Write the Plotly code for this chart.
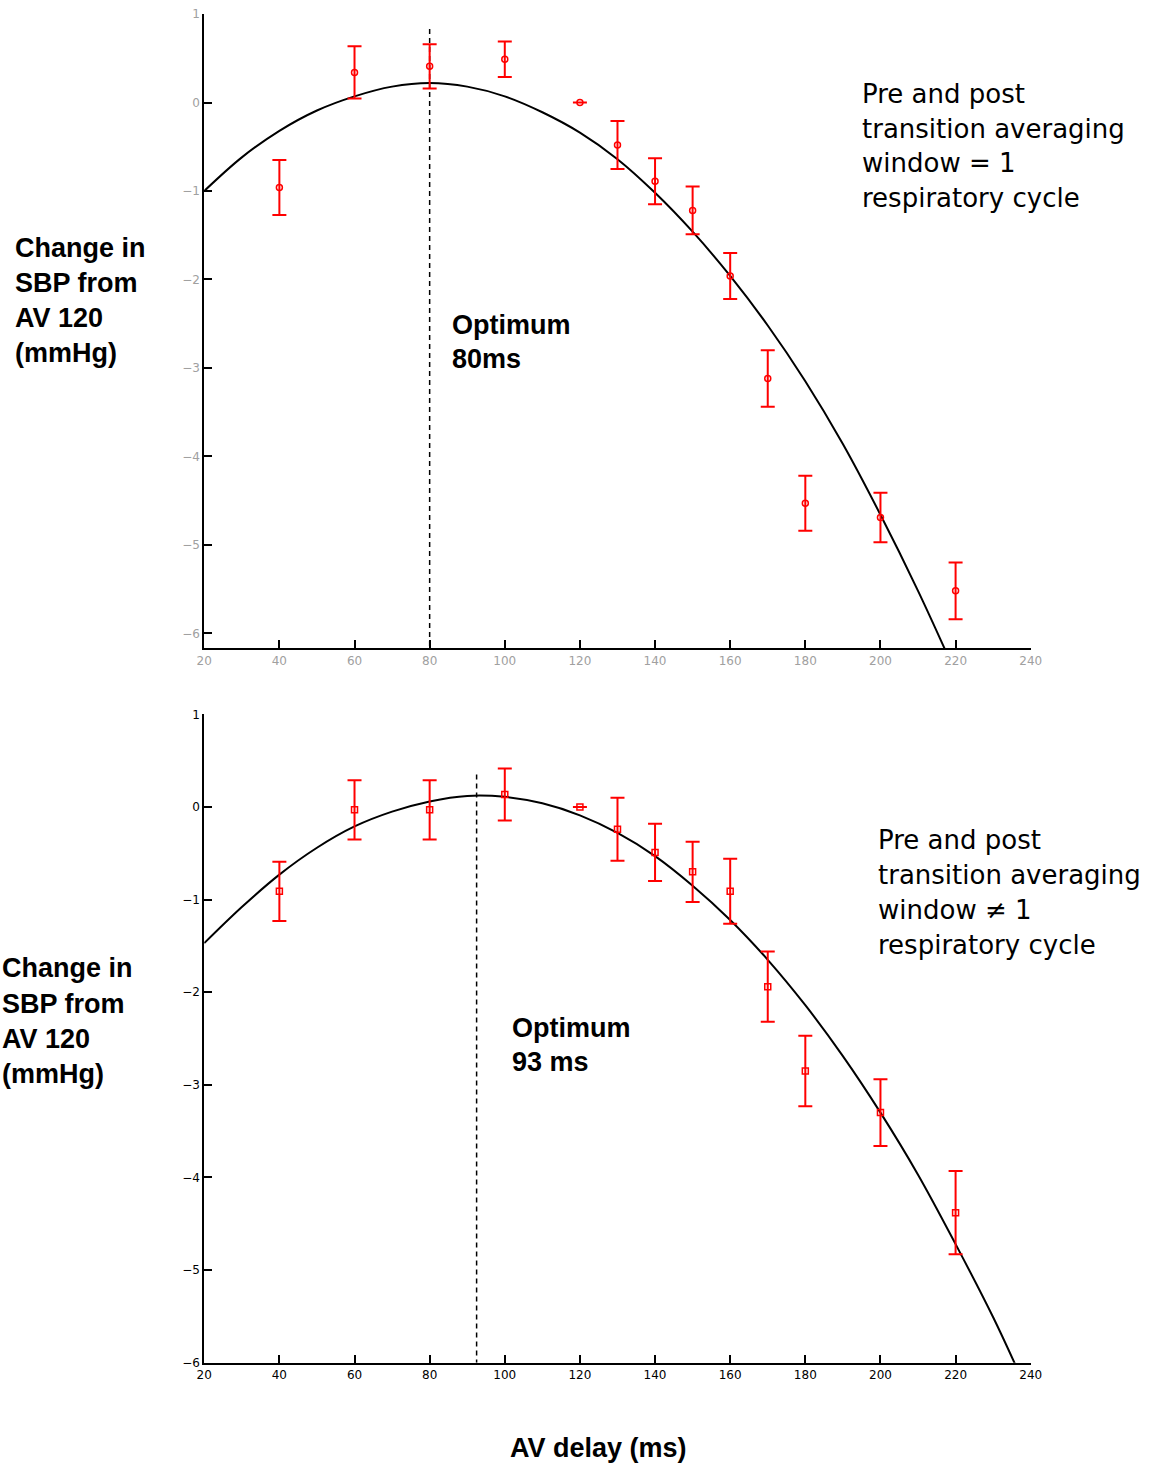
import plotly.graph_objects as go

# Page geometry: the page body has an 8px margin and the snapshot comes out slightly scaled,
# so reference pixel positions are mapped through that measured transform.
OFF = 8
SX, SY = 0.983, 0.990
W = int(round(1152 / SX - 2 * OFF))
H = int(round(1464 / SY - 2 * OFF))

# ---------------- data ----------------
av_top = [40, 60, 80, 100, 120, 130, 140, 150, 160, 170, 180, 200, 220]
sbp_top = [-0.96, 0.34, 0.41, 0.49, 0.0, -0.48, -0.89, -1.22, -1.96, -3.12, -4.53, -4.69, -5.52]
err_top = [0.31, 0.295, 0.25, 0.20, 0.0, 0.27, 0.26, 0.27, 0.26, 0.32, 0.31, 0.28, 0.32]

fit_x_top = [20, 30, 40, 50, 60, 70, 80, 90, 100, 110, 120, 130, 140, 150, 160, 170, 180, 190, 200, 210, 218]
fit_y_top = [-1.00, -0.62, -0.32, -0.09, 0.07, 0.18, 0.22, 0.18, 0.07, -0.11, -0.34, -0.64, -1.02,
             -1.46, -1.96, -2.52, -3.15, -3.86, -4.66, -5.52, -6.26]
opt_top = 80

av_bot = [40, 60, 80, 100, 120, 130, 140, 150, 160, 170, 180, 200, 220]
sbp_bot = [-0.91, -0.03, -0.03, 0.135, 0.0, -0.24, -0.49, -0.70, -0.91, -1.94, -2.85, -3.30, -4.38]
err_bot = [0.32, 0.32, 0.32, 0.28, 0.0, 0.34, 0.31, 0.325, 0.35, 0.38, 0.38, 0.36, 0.45]

fit_x_bot = [20, 30, 40, 50, 60, 70, 80, 90, 100, 110, 120, 130, 140, 150, 160, 170, 180, 190,
             200, 210, 220, 230, 237]
fit_y_bot = [-1.47, -1.08, -0.73, -0.44, -0.21, -0.05, 0.06, 0.12, 0.11, 0.04, -0.09, -0.28, -0.53,
             -0.85, -1.22, -1.65, -2.14, -2.69, -3.30, -3.97, -4.72, -5.51, -6.12]
opt_bot = 92.5

x_ticks = [20, 40, 60, 80, 100, 120, 140, 160, 180, 200, 220, 240]
y_ticks = [-6, -5, -4, -3, -2, -1, 0, 1]

ylabel_lines = ["Change in", "SBP from", "AV 120", "(mmHg)"]
note_top = ["Pre and post", "transition averaging", "window = 1", "respiratory cycle"]
note_bot = ["Pre and post", "transition averaging", "window \u2260 1", "respiratory cycle"]
opt_top_lines = ["Optimum", "80ms"]
opt_bot_lines = ["Optimum", "93 ms"]
xlabel = "AV delay (ms)"

RED = "#ff0000"

def px(v):  # target pixel x -> paper
    return (v / SX - OFF) / W

def py(v):  # target pixel y -> paper
    return 1 - (v / SY - OFF) / H

fig = go.Figure()

# top panel
fig.add_trace(go.Scatter(x=fit_x_top, y=fit_y_top, mode="lines", line=dict(color="black", width=2, shape="spline"),
                         xaxis="x", yaxis="y", showlegend=False, hoverinfo="skip"))
fig.add_trace(go.Scatter(x=[opt_top, opt_top], y=[0.83, -6.17], mode="lines",
                         line=dict(color="black", width=1.5, dash="5px,4px"),
                         xaxis="x", yaxis="y", showlegend=False))
fig.add_trace(go.Scatter(x=av_top, y=sbp_top, mode="markers",
                         marker=dict(symbol="circle-open", size=6, color=RED, line=dict(width=1.5, color=RED)),
                         error_y=dict(type="data", array=err_top, visible=True, color=RED, thickness=2, width=7),
                         xaxis="x", yaxis="y", showlegend=False))

# bottom panel
fig.add_trace(go.Scatter(x=fit_x_bot, y=fit_y_bot, mode="lines", line=dict(color="black", width=2, shape="spline"),
                         xaxis="x2", yaxis="y2", showlegend=False, hoverinfo="skip"))
fig.add_trace(go.Scatter(x=[opt_bot, opt_bot], y=[0.35, -6.0], mode="lines",
                         line=dict(color="black", width=1.5, dash="5px,4px"),
                         xaxis="x2", yaxis="y2", showlegend=False))
fig.add_trace(go.Scatter(x=av_bot, y=sbp_bot, mode="markers",
                         marker=dict(symbol="square-open", size=6, color=RED, line=dict(width=1.5, color=RED)),
                         error_y=dict(type="data", array=err_bot, visible=True, color=RED, thickness=2, width=7),
                         xaxis="x2", yaxis="y2", showlegend=False))

xdom = [px(204), px(1030)]
common = dict(showgrid=False, zeroline=False, showline=True, linecolor="black", linewidth=2,
              ticks="inside", ticklen=8, tickwidth=2, tickcolor="black")

fig.update_layout(
    width=W, height=H, margin=dict(l=0, r=0, t=0, b=0),
    paper_bgcolor="white", plot_bgcolor="white",
    xaxis=dict(domain=xdom, range=[20, 240], tickvals=x_ticks, anchor="y",
               tickfont=dict(family="DejaVu Sans", size=12, color="#a0a0a0"), **common),
    yaxis=dict(domain=[py(649), py(15)], range=[-6.17, 1], tickvals=y_ticks, anchor="x",
               tickfont=dict(family="DejaVu Sans", size=12, color="#a0a0a0"), **common),
    xaxis2=dict(domain=xdom, range=[20, 240], tickvals=x_ticks, anchor="y2",
                tickfont=dict(family="DejaVu Sans", size=12, color="black"), **common),
    yaxis2=dict(domain=[py(1363), py(715)], range=[-6, 1], tickvals=y_ticks, anchor="x2",
                tickfont=dict(family="DejaVu Sans", size=12, color="black"), **common),
)

annotations = []

def add_lines(lines, x0, ys, bold, size, family, xanchor="left"):
    for t, yy in zip(lines, ys):
        annotations.append(dict(
            text=f"<b>{t}</b>" if bold else t, x=px(x0), y=py(yy), xref="paper", yref="paper",
            xanchor=xanchor, yanchor="middle", showarrow=False,
            font=dict(family=family, size=size, color="black")))

BOLD = "Liberation Sans"
REG = "DejaVu Sans"
add_lines(ylabel_lines, 13, [249, 284, 319, 354], True, 27, BOLD)
add_lines(ylabel_lines, 0, [969, 1004, 1039, 1074], True, 27, BOLD)
add_lines(opt_top_lines, 450, [326, 360], True, 27, BOLD)
add_lines(opt_bot_lines, 510, [1028, 1062], True, 27, BOLD)
add_lines(note_top, 859, [95, 130, 164, 199], False, 26, REG)
add_lines(note_bot, 875, [841, 876, 911, 946], False, 26, REG)
add_lines([xlabel], 598, [1448], True, 27, BOLD, xanchor="center")

fig.update_layout(annotations=annotations)

fig.write_html("out.html")
